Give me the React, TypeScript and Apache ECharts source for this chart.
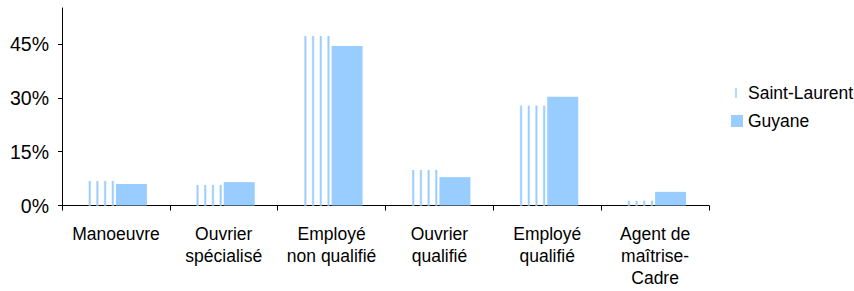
import React, { useEffect, useRef } from "react";
import * as echarts from "echarts";

const categories = [
  "Manoeuvre",
  "Ouvrier\nspécialisé",
  "Employé\nnon qualifié",
  "Ouvrier\nqualifié",
  "Employé\nqualifié",
  "Agent de\nmaîtrise-\nCadre",
];
const saintLaurent = [6.8, 5.7, 47.2, 9.9, 27.8, 1.3];
const guyane = [6.0, 6.5, 44.4, 7.9, 30.3, 3.8];
const yTicks = [0, 15, 30, 45];

const FONT = "'Liberation Sans', Arial, sans-serif";
const BLUE = "#99ccff";
const BAR_W = 31;

export default function App() {
  const ref = useRef<HTMLDivElement>(null);
  useEffect(() => {
    if (!ref.current) return;
    const chart = echarts.init(ref.current, null, { renderer: "svg" });
    chart.setOption({
      animation: false,
      backgroundColor: "#ffffff",
      textStyle: { fontFamily: FONT },
      grid: { left: 62, right: 145, top: 8, bottom: 85.5 },
      legend: {
        orient: "vertical",
        left: 731,
        top: 84,
        padding: 0,
        itemWidth: 12,
        itemHeight: 12,
        itemGap: 10,
        textStyle: { fontFamily: FONT, fontSize: 17.5, color: "#000" },
        data: [
          {
            name: "Saint-Laurent",
            icon: "path://M0,0h0.01v0.01H0zM4,1h2v10H4zM11.99,11.99h0.01v0.01h-0.01z",
            itemStyle: { color: "#b3d9ff" },
          },
          { name: "Guyane", icon: "rect", itemStyle: { color: BLUE } },
        ],
      },
      xAxis: {
        type: "category",
        data: categories,
        boundaryGap: true,
        axisLine: { lineStyle: { color: "#000", width: 1 } },
        axisTick: { show: true, length: 5, lineStyle: { color: "#000" } },
        axisLabel: {
          fontFamily: FONT,
          fontSize: 17.5,
          color: "#000",
          lineHeight: 22,
          margin: 17,
          interval: 0,
          align: "center",
        },
      },
      yAxis: {
        type: "value",
        min: 0,
        max: 55,
        interval: 15,
        splitLine: { show: false },
        axisLine: { show: true, lineStyle: { color: "#000", width: 1 } },
        axisTick: { show: true, length: 4, customValues: yTicks, lineStyle: { color: "#000" } },
        axisLabel: {
          fontFamily: FONT,
          fontSize: 19.5,
          color: "#000",
          margin: 13,
          customValues: yTicks,
          formatter: (v: number) => (yTicks.indexOf(v) >= 0 ? v + "%" : ""),
        },
      },
      series: [
        {
          name: "Saint-Laurent",
          type: "custom",
          itemStyle: { color: "#b3d9ff" },
          data: saintLaurent.map((v, i) => [i, v]),
          encode: { x: 0, y: 1 },
          renderItem: (params: any, api: any) => {
            const idx = api.value(0);
            const val = api.value(1);
            const top = api.coord([idx, val]);
            const base = api.coord([idx, 0]);
            const left = top[0] - BAR_W;
            const h = base[1] - top[1];
            const children: any[] = [];
            const offsets = [3.5, 11.2, 18.9, 26.6];
            offsets.forEach((o) => {
              children.push({
                type: "rect",
                shape: { x: left + o, y: top[1], width: 2.6, height: h },
                style: { fill: "#cfe7ff" },
              });
              children.push({
                type: "rect",
                shape: { x: left + o + 0.6, y: top[1], width: 1.4, height: h },
                style: { fill: BLUE },
              });
            });
            return { type: "group", children };
          },
        },
        {
          name: "Guyane",
          type: "custom",
          itemStyle: { color: BLUE },
          data: guyane.map((v, i) => [i, v]),
          encode: { x: 0, y: 1 },
          renderItem: (params: any, api: any) => {
            const idx = api.value(0);
            const val = api.value(1);
            const top = api.coord([idx, val]);
            const base = api.coord([idx, 0]);
            return {
              type: "rect",
              shape: { x: top[0], y: top[1], width: BAR_W, height: base[1] - top[1] },
              style: { fill: BLUE },
            };
          },
        },
      ],
    });
    return () => chart.dispose();
  }, []);
  return (
    <div
      ref={ref}
      style={{ position: "fixed", left: 0, top: 0, width: 854, height: 291, background: "#fff" }}
    />
  );
}
